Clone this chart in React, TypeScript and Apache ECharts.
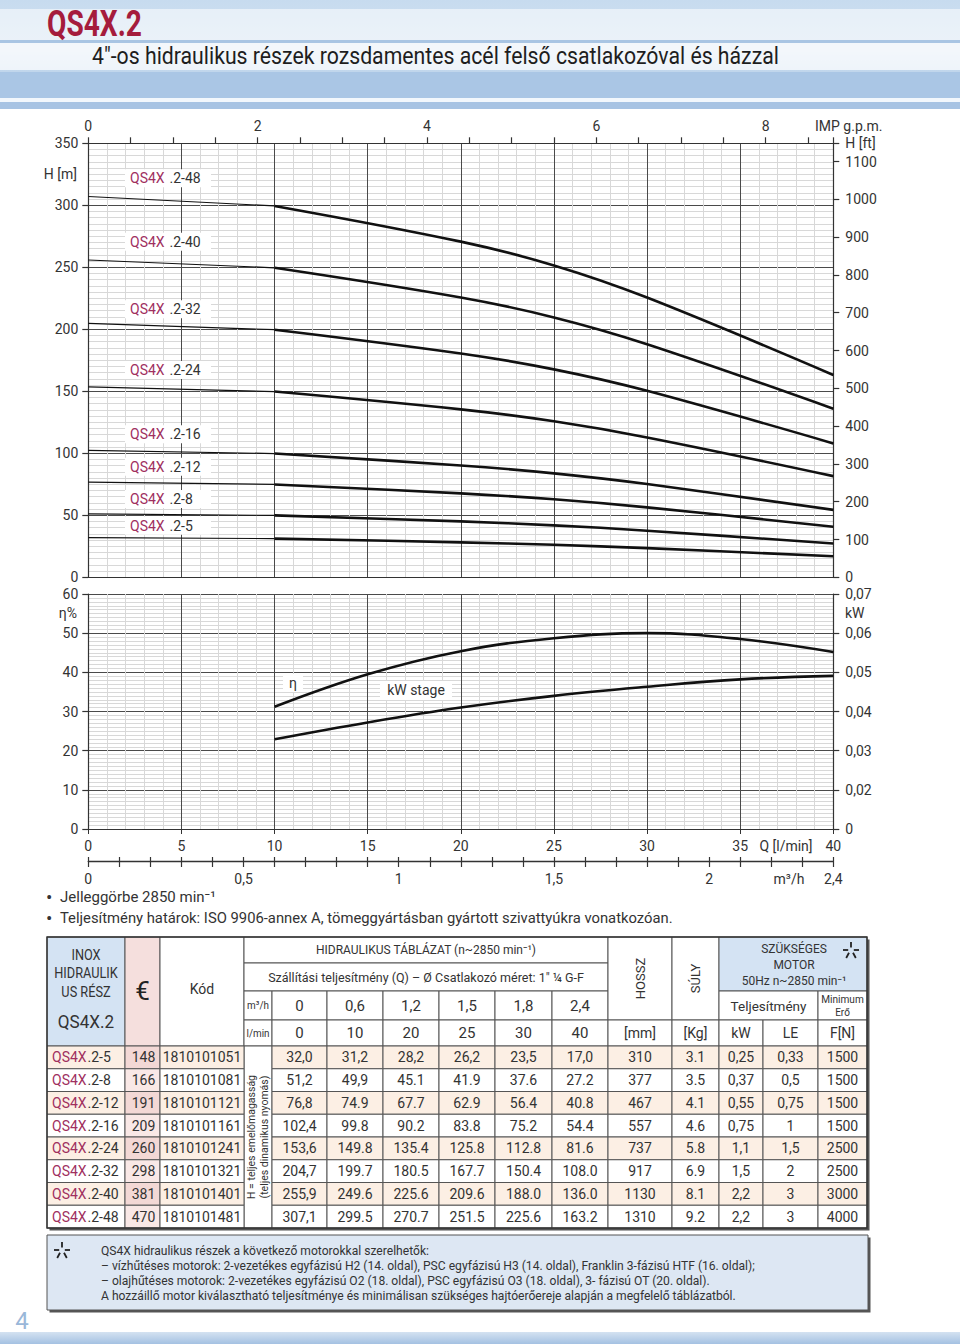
import React, { useEffect, useRef } from 'react';
import * as echarts from 'echarts';

const FONT = 'Roboto, "DejaVu Sans", sans-serif';

// ---------------- data ----------------
const qLmin = [0, 10, 20, 25, 30, 40];
const qM3hLabels = ['0', '0,6', '1,2', '1,5', '1,8', '2,4'];
const models = ['2-5', '2-8', '2-12', '2-16', '2-24', '2-32', '2-40', '2-48'];
const prices = ['148', '166', '191', '209', '260', '298', '381', '470'];
const codes = ['1810101051', '1810101081', '1810101121', '1810101161', '1810101241', '1810101321', '1810101401', '1810101481'];
const head_2_5 = ['32,0', '31,2', '28,2', '26,2', '23,5', '17,0'];
const head_2_8 = ['51,2', '49,9', '45.1', '41.9', '37.6', '27.2'];
const head_2_12 = ['76,8', '74.9', '67.7', '62.9', '56.4', '40.8'];
const head_2_16 = ['102,4', '99.8', '90.2', '83.8', '75.2', '54.4'];
const head_2_24 = ['153,6', '149.8', '135.4', '125.8', '112.8', '81.6'];
const head_2_32 = ['204,7', '199.7', '180.5', '167.7', '150.4', '108.0'];
const head_2_40 = ['255,9', '249.6', '225.6', '209.6', '188.0', '136.0'];
const head_2_48 = ['307,1', '299.5', '270.7', '251.5', '225.6', '163.2'];
const heads = [head_2_5, head_2_8, head_2_12, head_2_16, head_2_24, head_2_32, head_2_40, head_2_48];
const lengths = ['310', '377', '467', '557', '737', '917', '1130', '1310'];
const weights = ['3.1', '3.5', '4.1', '4.6', '5.8', '6.9', '8.1', '9.2'];
const motorKw = ['0,25', '0,37', '0,55', '0,75', '1,1', '1,5', '2,2', '2,2'];
const motorLe = ['0,33', '0,5', '0,75', '1', '1,5', '2', '3', '3'];
const minForce = ['1500', '1500', '1500', '1500', '2500', '2500', '3000', '4000'];

const etaQ = [10, 15, 20, 25, 30, 35, 40];
const etaPct = [31.2, 39.5, 45.4, 48.7, 50.0, 48.5, 45.2];
const kwStage = [0.0329, 0.0372, 0.041, 0.044, 0.0463, 0.0482, 0.0491];

const footNotes = [
  'QS4X hidraulikus részek a következő motorokkal szerelhetők:',
  '– vízhűtéses motorok: 2-vezetékes egyfázisú H2 (14. oldal), PSC egyfázisú H3 (14. oldal), Franklin 3-fázisú HTF (16. oldal);',
  '– olajhűtéses motorok: 2-vezetékes egyfázisú O2 (18. oldal), PSC egyfázisú O3 (18. oldal), 3- fázisú OT (20. oldal).',
  'A hozzáillő motor kiválasztható teljesítménye és minimálisan szükséges hajtóerőereje alapján a megfelelő táblázatból.',
];

// ---------------- layout ----------------
const GL = 88.3;
const GW = 745;
const G0T = 143.3;
const G0H = 434;
const G1T = 594;
const G1H = 235;
const G2T = 860;
const LPM_PER_GPM = 4.54609;
const M_TO_FT = 3.28084;
const curveLabelY = [525.7, 499, 466.7, 434.3, 370, 309.3, 241.7, 178.3];
const colX = [47, 125, 160, 244, 272, 327, 383, 439, 495, 552, 608, 672, 719, 763, 818, 867];
const rowY = [937, 963, 991, 1020, 1046];
for (let i = 1; i <= 8; i++) rowY.push(1046 + i * 22.75);

const CRIMSON = '#a0305f';
const TXT = '#333';

const num = (s: string) => parseFloat(s.replace(',', '.'));

function T(x: number, y: number, text: string, o: any = {}) {
  const align = o.align ?? 'center';
  const va = o.va ?? 'middle';
  return {
    type: 'text',
    x,
    y,
    z: o.z ?? 100,
    rotation: o.rotation ?? 0,
    scaleX: o.scaleX ?? 1,
    silent: true,
    style: {
      text,
      fill: o.color ?? TXT,
      fontSize: o.size ?? 14,
      fontFamily: o.family ?? FONT,
      fontWeight: o.weight ?? 'normal',
      align,
      verticalAlign: va,
      textAlign: align,
      textVerticalAlign: va,
    },
  };
}
function R(x: number, y: number, w: number, h: number, fill: any, stroke?: string, lw = 1, z = 90) {
  return {
    type: 'rect',
    z,
    silent: true,
    shape: { x, y, width: w, height: h },
    style: { fill, stroke: stroke ?? 'none', lineWidth: stroke ? lw : 0 },
  };
}
function L(x1: number, y1: number, x2: number, y2: number, color = '#333', lw = 1, z = 100) {
  return { type: 'line', z, silent: true, shape: { x1, y1, x2, y2 }, style: { stroke: color, lineWidth: lw } };
}
function star(cx: number, cy: number, r: number) {
  const c = '#222';
  const w = 1.8;
  return [
    L(cx, cy - r, cx, cy - r * 0.3, c, w, 110),
    L(cx - r, cy, cx - r * 0.35, cy, c, w, 110),
    L(cx + r * 0.35, cy, cx + r, cy, c, w, 110),
    L(cx - r * 0.25, cy + r * 0.35, cx - r * 0.6, cy + r, c, w, 110),
    L(cx + r * 0.25, cy + r * 0.35, cx + r * 0.6, cy + r, c, w, 110),
  ];
}

function buildGraphics() {
  const g: any[] = [];
  // header background
  g.push(R(0, 0, 960, 100, new echarts.graphic.LinearGradient(0, 0, 0, 1, [
    { offset: 0, color: '#c7dbef' },
    { offset: 0.5, color: '#d3e2f1' },
    { offset: 1, color: '#a9c6e5' },
  ]), undefined, 0, 1));
  g.push(R(0, 9, 960, 31, 'rgba(255,255,255,0.55)', undefined, 0, 2));
  g.push(R(0, 40, 960, 3, '#a9c5e3', undefined, 0, 3));
  g.push(R(0, 43, 960, 27, 'rgba(255,255,255,0.72)', undefined, 0, 3));
  g.push(R(0, 72, 960, 26, '#aac6e5', undefined, 0, 3));
  g.push(R(0, 98, 960, 4, '#f2f7fc', undefined, 0, 3));
  g.push(R(0, 102, 960, 7, '#a7c3e3', undefined, 0, 3));
  g.push(T(47, 24, 'QS4X.2', { align: 'left', size: 37, weight: 'bold', color: '#a51c3c', scaleX: 0.76 }));
  g.push(T(92, 56, '4"-os hidraulikus részek rozsdamentes acél felső csatlakozóval és házzal', { align: 'left', size: 23, color: '#1e1e1e', scaleX: 0.924 }));

  // axis names
  g.push(T(77, 174, 'H [m]', { align: 'right', size: 14 }));
  g.push(T(815, 126, 'IMP g.p.m.', { align: 'left', size: 14 }));
  g.push(T(77, 613, 'η%', { align: 'right', size: 14 }));
  g.push(T(845, 613, 'kW', { align: 'left', size: 14 }));
  g.push(T(786, 846, 'Q [l/min]', { size: 14 }));
  g.push(T(789, 879, 'm³/h', { size: 14 }));

  // curve labels
  models.forEach((m, i) => {
    const y = curveLabelY[i];
    g.push(R(125, y - 9, 86, 18, '#fff', undefined, 0, 95));
    g.push(T(130, y, 'QS4X', { align: 'left', color: CRIMSON }));
    g.push(T(166, y, ' .' + m, { align: 'left' }));
  });
  g.push(R(283, 674, 20, 18, '#fff', undefined, 0, 95));
  g.push(T(293, 683, 'η', { size: 14 }));
  g.push(R(380, 681, 72, 19, '#fff', undefined, 0, 95));
  g.push(T(416, 690, 'kW stage', { size: 14 }));

  // bullets
  g.push(T(49, 897, '•', { size: 16, weight: 'bold' }));
  g.push(T(60, 897, 'Jelleggörbe 2850 min⁻¹', { align: 'left', size: 15 }));
  g.push(T(49, 918, '•', { size: 16, weight: 'bold' }));
  g.push(T(60, 918, 'Teljesítmény határok: ISO 9906-annex A, tömeggyártásban gyártott szivattyúkra vonatkozóan.', { align: 'left', size: 15, scaleX: 0.987 }));

  // ---------- table ----------
  const cx = (a: number, b: number) => (colX[a] + colX[b]) / 2;
  const cy = (a: number, b: number) => (rowY[a] + rowY[b]) / 2;
  const cell = (c0: number, c1: number, r0: number, r1: number, fill: string) =>
    R(colX[c0], rowY[r0], colX[c1] - colX[c0], rowY[r1] - rowY[r0], fill, '#555', 1, 92);
  const tW = colX[15] - colX[0];
  const tH = rowY[12] - rowY[0];
  g.push(R(colX[0] + 2.5, rowY[0] + 2.5, tW, tH, '#555', undefined, 0, 89));
  g.push(R(colX[0], rowY[0], tW, tH, '#fff', undefined, 0, 90));
  const BLUE = '#d4e3f3';
  const PINK = '#f5dfdd';
  g.push(cell(0, 1, 0, 4, BLUE));
  g.push(T(cx(0, 1), 955, 'INOX', { size: 15, scaleX: 0.85 }));
  g.push(T(cx(0, 1), 973, 'HIDRAULIK', { size: 15, scaleX: 0.85 }));
  g.push(T(cx(0, 1), 992, 'US RÉSZ', { size: 15, scaleX: 0.85 }));
  g.push(T(cx(0, 1), 1021, 'QS4X.2', { size: 19, scaleX: 0.9 }));
  g.push(cell(1, 2, 0, 4, PINK));
  g.push(T(cx(1, 2), 991, '€', { size: 26, color: '#222' }));
  g.push(cell(2, 3, 0, 4, '#fff'));
  g.push(T(cx(2, 3), 989, 'Kód', { size: 14 }));
  g.push(cell(3, 10, 0, 1, '#fff'));
  g.push(T(cx(3, 10), cy(0, 1), 'HIDRAULIKUS TÁBLÁZAT (n~2850 min⁻¹)', { size: 12.5, scaleX: 0.96 }));
  g.push(cell(3, 10, 1, 2, '#fff'));
  g.push(T(cx(3, 10), cy(1, 2), 'Szállítási teljesítmény (Q) – Ø Csatlakozó méret: 1" ¼ G-F', { size: 12.5 }));
  g.push(cell(3, 4, 2, 3, '#fff'));
  g.push(T(cx(3, 4), cy(2, 3), 'm³/h', { size: 11, scaleX: 0.9 }));
  g.push(cell(3, 4, 3, 4, '#fff'));
  g.push(T(cx(3, 4), cy(3, 4), 'l/min', { size: 11, scaleX: 0.9 }));
  for (let k = 0; k < 6; k++) {
    g.push(cell(4 + k, 5 + k, 2, 3, '#fff'));
    g.push(T(cx(4 + k, 5 + k), cy(2, 3), qM3hLabels[k], { size: 15 }));
    g.push(cell(4 + k, 5 + k, 3, 4, '#fff'));
    g.push(T(cx(4 + k, 5 + k), cy(3, 4), String(qLmin[k]), { size: 15 }));
  }
  g.push(cell(10, 11, 0, 3, '#fff'));
  g.push(T(cx(10, 11), cy(0, 3), 'HOSSZ', { size: 13, rotation: Math.PI / 2 }));
  g.push(cell(10, 11, 3, 4, '#fff'));
  g.push(T(cx(10, 11), cy(3, 4), '[mm]', { size: 14 }));
  g.push(cell(11, 12, 0, 3, '#fff'));
  g.push(T(cx(11, 12), cy(0, 3), 'SÚLY', { size: 13, rotation: Math.PI / 2 }));
  g.push(cell(11, 12, 3, 4, '#fff'));
  g.push(T(cx(11, 12), cy(3, 4), '[Kg]', { size: 14 }));
  g.push(cell(12, 15, 0, 2, BLUE));
  g.push(T(794, 949, 'SZÜKSÉGES', { size: 12 }));
  g.push(T(794, 965, 'MOTOR', { size: 12 }));
  g.push(T(794, 981, '50Hz n~2850 min⁻¹', { size: 12 }));
  g.push(...star(851, 950, 8));
  g.push(cell(12, 14, 2, 3, '#fff'));
  g.push(T(cx(12, 14), cy(2, 3), 'Teljesítmény', { size: 13.5 }));
  g.push(cell(14, 15, 2, 3, '#fff'));
  g.push(T(cx(14, 15), 999, 'Minimum', { size: 11, scaleX: 0.92 }));
  g.push(T(cx(14, 15), 1012, 'Erő', { size: 10 }));
  const unitRow = ['kW', 'LE', 'F[N]'];
  for (let k = 0; k < 3; k++) {
    g.push(cell(12 + k, 13 + k, 3, 4, '#fff'));
    g.push(T(cx(12 + k, 13 + k), cy(3, 4), unitRow[k], { size: 14 }));
  }
  // body
  g.push(cell(3, 4, 4, 12, '#fff'));
  g.push(T(251, 1137, 'H = teljes emelőmagasság', { size: 10.5, rotation: Math.PI / 2 }));
  g.push(T(264, 1137, '(teljes dinamikus nyomás)', { size: 10.5, rotation: Math.PI / 2 }));
  models.forEach((m, i) => {
    const r = 4 + i;
    const even = i % 2 === 0;
    const fill = even ? '#fcefe4' : '#ffffff';
    const pink = even ? '#f3d8d5' : '#f9e8e6';
    const y = cy(r, r + 1);
    g.push(cell(0, 1, r, r + 1, fill));
    g.push(T(52, y, 'QS4X', { align: 'left', color: CRIMSON }));
    g.push(T(87.5, y, '.' + m, { align: 'left' }));
    g.push(cell(1, 2, r, r + 1, pink));
    g.push(T(cx(1, 2) + 1, y, prices[i]));
    g.push(cell(2, 3, r, r + 1, fill));
    g.push(T(cx(2, 3), y, codes[i]));
    heads[i].forEach((h, k) => {
      g.push(cell(4 + k, 5 + k, r, r + 1, fill));
      g.push(T(cx(4 + k, 5 + k), y, h));
    });
    const rest = [lengths[i], weights[i], motorKw[i], motorLe[i], minForce[i]];
    rest.forEach((v, k) => {
      g.push(cell(10 + k, 11 + k, r, r + 1, fill));
      g.push(T(cx(10 + k, 11 + k), y, v));
    });
  });
  g.push(R(colX[0], rowY[0], tW, tH, 'none', '#333', 1.4, 105));

  // footer box
  g.push(R(49.5, 1237.5, 821, 75, '#555', undefined, 0, 89));
  g.push(R(47, 1235, 821, 75, '#dde7f3', '#555', 1, 90));
  g.push(...star(62, 1250, 8));
  footNotes.forEach((t, i) => g.push(T(101, 1251 + i * 15, t, { align: 'left', size: 12.1 })));

  // page number and bottom band
  g.push(T(22, 1321, '4', { size: 24, color: '#9ab7d9' }));
  g.push(R(0, 1332, 960, 12, new echarts.graphic.LinearGradient(0, 0, 0, 1, [
    { offset: 0, color: '#d4e2f1' },
    { offset: 1, color: '#a4c1e2' },
  ]), undefined, 0, 1));
  return g;
}

function buildOption() {
  const axisLineStyle = { color: '#333', width: 1.2 };
  const labelBase = { color: TXT, fontSize: 14, fontFamily: FONT };
  const majorSplit = { show: true, lineStyle: { color: '#4a4a4a', width: 1 } };
  const minorSplit = { show: true, lineStyle: { color: '#d8d8d8', width: 1 } };
  const series: any[] = [];
  heads.forEach((h) => {
    const vals = h.map(num);
    series.push({
      type: 'line', xAxisIndex: 0, yAxisIndex: 0, symbol: 'none', silent: true,
      data: [[qLmin[0], vals[0]], [qLmin[1], vals[1]]],
      lineStyle: { color: '#111', width: 1.2 },
    });
    series.push({
      type: 'line', xAxisIndex: 0, yAxisIndex: 0, symbol: 'none', silent: true, smooth: 0.35,
      data: qLmin.slice(1).map((q, k) => [q, vals[k + 1]]),
      lineStyle: { color: '#111', width: 2.6 },
    });
  });
  series.push({
    type: 'line', xAxisIndex: 2, yAxisIndex: 2, symbol: 'none', silent: true, smooth: 0.4,
    data: etaQ.map((q, k) => [q, etaPct[k]]),
    lineStyle: { color: '#111', width: 2.6 },
  });
  series.push({
    type: 'line', xAxisIndex: 2, yAxisIndex: 3, symbol: 'none', silent: true, smooth: 0.4,
    data: etaQ.map((q, k) => [q, kwStage[k]]),
    lineStyle: { color: '#111', width: 2.6 },
  });

  return {
    animation: false,
    textStyle: { fontFamily: FONT },
    grid: [
      { left: GL, top: G0T, width: GW, height: G0H, outerBoundsMode: 'none', containLabel: false },
      { left: GL, top: G1T, width: GW, height: G1H, outerBoundsMode: 'none', containLabel: false },
      { left: GL, top: G2T, width: GW, height: 1, outerBoundsMode: 'none', containLabel: false },
    ],
    xAxis: [
      {
        gridIndex: 0, type: 'value', min: 0, max: 40, interval: 5, position: 'bottom',
        axisLine: { show: true, onZero: false, lineStyle: axisLineStyle },
        axisTick: { show: false }, axisLabel: { show: false },
        splitLine: majorSplit, minorTick: { show: false, splitNumber: 5 }, minorSplitLine: minorSplit,
      },
      {
        gridIndex: 0, type: 'value', min: 0, max: 40 / LPM_PER_GPM, interval: 0.5, position: 'top',
        axisLine: { show: true, onZero: false, lineStyle: axisLineStyle },
        axisTick: { show: true, inside: false, length: 6, lineStyle: { color: '#333', width: 1.2 } },
        axisLabel: {
          ...labelBase, margin: 10,
          formatter: (v: number) => (Math.abs(v / 2 - Math.round(v / 2)) < 1e-6 ? String(Math.round(v)) : ''),
        },
        splitLine: { show: false },
      },
      {
        gridIndex: 1, type: 'value', min: 0, max: 40, interval: 5, position: 'bottom',
        axisLine: { show: true, onZero: false, lineStyle: axisLineStyle },
        axisTick: { show: true, inside: false, length: 5, lineStyle: { color: '#333' } },
        axisLabel: { ...labelBase, margin: 10 },
        splitLine: majorSplit, minorTick: { show: false, splitNumber: 5 }, minorSplitLine: minorSplit,
      },
      {
        gridIndex: 2, type: 'value', min: 0, max: 2.4, interval: 0.1, position: 'bottom',
        axisLine: { show: true, onZero: false, lineStyle: { color: '#333', width: 1.4 } },
        axisTick: { show: true, inside: false, length: 6, lineStyle: { color: '#333', width: 1.2 } },
        axisLabel: {
          ...labelBase, margin: 11,
          formatter: (v: number) => {
            const r = Math.round(v * 10);
            if (r % 5 === 0 || r === 24) return String(r / 10).replace('.', ',');
            return '';
          },
        },
        splitLine: { show: false },
      },
      {
        gridIndex: 2, type: 'value', min: 0, max: 2.4, interval: 0.1, position: 'bottom',
        axisLine: { show: false, onZero: false },
        axisTick: { show: true, inside: true, length: 4, lineStyle: { color: '#333', width: 1.2 } },
        axisLabel: { show: false },
        splitLine: { show: false },
      },
    ],
    yAxis: [
      {
        gridIndex: 0, type: 'value', min: 0, max: 350, interval: 50, position: 'left',
        axisLine: { show: true, onZero: false, lineStyle: axisLineStyle },
        axisTick: { show: true, inside: false, length: 6, lineStyle: { color: '#333', width: 1.2 } },
        axisLabel: { ...labelBase, margin: 10 },
        splitLine: majorSplit, minorTick: { show: false, splitNumber: 10 }, minorSplitLine: minorSplit,
      },
      {
        gridIndex: 0, type: 'value', min: 0, max: 350 * M_TO_FT, interval: 100, position: 'right',
        axisLine: { show: true, onZero: false, lineStyle: axisLineStyle },
        axisTick: { show: true, inside: false, length: 6, lineStyle: { color: '#333', width: 1.2 } },
        axisLabel: { ...labelBase, margin: 12, formatter: (v: number) => (v > 1100.5 ? 'H [ft]' : String(Math.round(v))) },
        splitLine: { show: false },
      },
      {
        gridIndex: 1, type: 'value', min: 0, max: 60, interval: 10, position: 'left',
        axisLine: { show: true, onZero: false, lineStyle: axisLineStyle },
        axisTick: { show: true, inside: false, length: 6, lineStyle: { color: '#333', width: 1.2 } },
        axisLabel: { ...labelBase, margin: 10 },
        splitLine: majorSplit, minorTick: { show: false, splitNumber: 10 }, minorSplitLine: minorSplit,
      },
      {
        gridIndex: 1, type: 'value', min: 0.01, max: 0.07, interval: 0.01, position: 'right',
        axisLine: { show: true, onZero: false, lineStyle: axisLineStyle },
        axisTick: { show: true, inside: false, length: 6, lineStyle: { color: '#333', width: 1.2 } },
        axisLabel: {
          ...labelBase, margin: 12,
          formatter: (v: number) => (v < 0.015 ? '0' : v.toFixed(2).replace('.', ',')),
        },
        splitLine: { show: false },
      },
      { gridIndex: 2, type: 'value', min: 0, max: 1, show: false },
    ],
    series,
    graphic: { elements: buildGraphics() },
  };
}

export default function App() {
  const ref = useRef<HTMLDivElement>(null);
  useEffect(() => {
    if (!ref.current) return;
    const chart = echarts.init(ref.current, undefined, { renderer: 'svg' });
    chart.setOption(buildOption() as any);
    return () => chart.dispose();
  }, []);
  return (
    <div
      ref={ref}
      style={{ position: 'absolute', left: 0, top: 0, width: 960, height: 1344, background: '#fff' }}
    />
  );
}
